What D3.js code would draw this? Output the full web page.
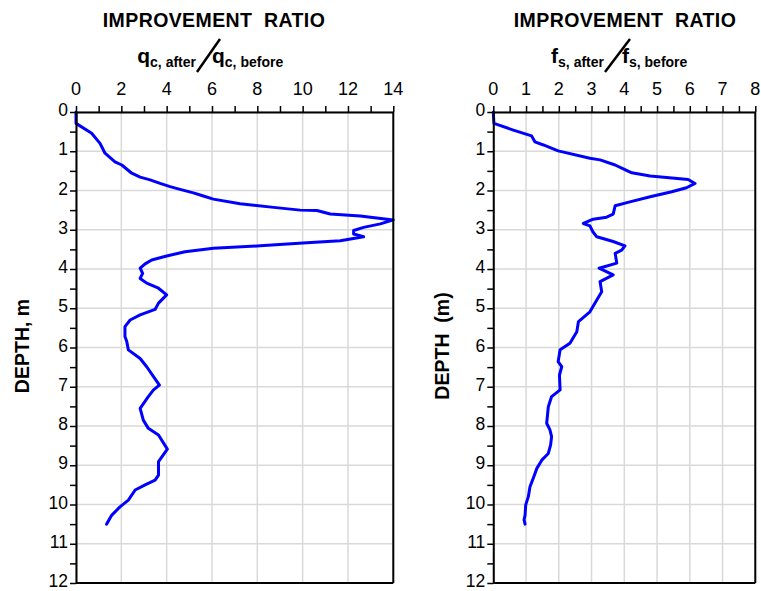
<!DOCTYPE html>
<html>
<head>
<meta charset="utf-8">
<script src="https://cdn.jsdelivr.net/npm/d3@7"></script>
<style>
  body { margin: 0; background: #fff; }
  svg { display: block; font-family: Arial, "Liberation Sans", sans-serif; }
</style>
</head>
<body>
<div id="chart"></div>
<script>
// depth (m) and improvement ratio
const qcDepth = [0, 0.03, 0.29, 0.54, 0.80, 1.05, 1.27, 1.35, 1.56, 1.66, 1.73, 1.82, 1.90, 1.97, 2.06, 2.14, 2.22, 2.34, 2.43, 2.50, 2.51, 2.60, 2.65, 2.75, 2.85, 2.94, 3.02, 3.11, 3.18, 3.28, 3.33, 3.41, 3.47, 3.56, 3.67, 3.77, 3.87, 3.98, 4.11, 4.24, 4.36, 4.49, 4.66, 4.87, 5.03, 5.17, 5.30, 5.47, 5.72, 5.85, 6.06, 6.28, 6.49, 6.74, 6.96, 7.08, 7.25, 7.55, 7.85, 8.06, 8.23, 8.59, 8.91, 9.25, 9.38, 9.50, 9.63, 9.89, 10.06, 10.27, 10.50];
const qcRatio = [0, 0, 0, 0.69, 1.06, 1.28, 1.72, 2.02, 2.46, 2.83, 3.27, 3.71, 4.15, 4.59, 5.18, 5.62, 6.06, 7.24, 8.72, 9.89, 10.63, 11.22, 12.54, 14.0, 13.43, 12.69, 12.25, 12.25, 12.69, 11.66, 10.19, 8.13, 6.06, 4.81, 4.0, 3.34, 3.05, 2.83, 2.94, 2.83, 3.12, 3.64, 4.0, 3.64, 3.49, 2.83, 2.39, 2.16, 2.16, 2.24, 2.31, 2.83, 3.12, 3.42, 3.68, 3.42, 3.19, 2.83, 2.97, 3.19, 3.64, 4.03, 3.64, 3.64, 3.49, 3.05, 2.61, 2.31, 1.94, 1.58, 1.35];

const fsDepth = [0, 0.03, 0.29, 0.46, 0.61, 0.76, 0.84, 0.99, 1.18, 1.22, 1.35, 1.43, 1.55, 1.63, 1.67, 1.72, 1.82, 1.93, 2.03, 2.16, 2.29, 2.39, 2.60, 2.68, 2.73, 2.84, 2.90, 3.05, 3.18, 3.30, 3.41, 3.52, 3.60, 3.85, 3.98, 4.15, 4.32, 4.58, 4.79, 5.09, 5.34, 5.60, 5.89, 6.06, 6.36, 6.49, 6.70, 7.08, 7.25, 7.51, 7.93, 8.10, 8.27, 8.48, 8.70, 8.87, 9.08, 9.33, 9.55, 9.80, 10.01, 10.27, 10.39, 10.50];
const fsRatio = [0, 0, 0.02, 0.61, 1.17, 1.27, 1.53, 1.98, 2.95, 3.26, 3.72, 3.92, 4.23, 4.79, 5.29, 5.95, 6.16, 5.90, 5.45, 4.79, 4.17, 3.72, 3.66, 3.46, 3.05, 2.75, 2.95, 3.04, 3.16, 3.66, 4.02, 3.92, 3.72, 3.77, 3.23, 3.66, 3.26, 3.31, 3.16, 2.95, 2.60, 2.55, 2.34, 2.04, 1.98, 2.09, 2.02, 2.04, 1.78, 1.68, 1.63, 1.73, 1.78, 1.75, 1.68, 1.48, 1.33, 1.22, 1.12, 1.07, 0.99, 0.97, 0.94, 0.97];

const depthTicks = d3.range(0, 13, 1);
const qcTicks = [0, 2, 4, 6, 8, 10, 12, 14];
const fsTicks = [0, 1, 2, 3, 4, 5, 6, 7, 8];

const W = 761, H = 591;
const svg = d3.select("#chart").append("svg")
    .attr("width", W)
    .attr("height", H);

function panel(opts) {
  const x = d3.scaleLinear().domain([0, opts.xMax]).range([opts.left, opts.right]);
  const y = d3.scaleLinear().domain([0, 12]).range([112, 583]);
  const g = svg.append("g");

  // grid
  g.append("g").selectAll("line")
    .data(opts.gridX)
    .join("line")
      .attr("x1", d => x(d)).attr("x2", d => x(d))
      .attr("y1", y(0)).attr("y2", y(12))
      .attr("stroke", "#d9d9d9").attr("stroke-width", 1.5);
  g.append("g").selectAll("line")
    .data(depthTicks)
    .join("line")
      .attr("x1", x(0)).attr("x2", x(opts.xMax))
      .attr("y1", d => y(d)).attr("y2", d => y(d))
      .attr("stroke", "#d9d9d9").attr("stroke-width", 1.5);

  // curve
  const pts = opts.depth.map((d, i) => [opts.ratio[i], d]);
  g.append("path")
    .datum(pts)
    .attr("fill", "none")
    .attr("stroke", "#0000ff")
    .attr("stroke-width", 3)
    .attr("stroke-linejoin", "round")
    .attr("stroke-linecap", "round")
    .attr("d", d3.line().x(d => x(d[0])).y(d => y(d[1])));

  // frame (right and bottom)
  g.append("line").attr("x1", x(opts.xMax)).attr("x2", x(opts.xMax))
    .attr("y1", y(0)).attr("y2", y(12)).attr("stroke", "#000").attr("stroke-width", 2);
  g.append("line").attr("x1", x(0)).attr("x2", x(opts.xMax))
    .attr("y1", y(12)).attr("y2", y(12)).attr("stroke", "#000").attr("stroke-width", 2);

  // top axis
  const xAx = g.append("g")
    .attr("transform", `translate(0,${y(0)})`)
    .call(d3.axisTop(x).tickValues(opts.minorX).tickSize(6).tickSizeOuter(0).tickFormat(""));
  xAx.select(".domain").attr("stroke-width", 2);
  xAx.selectAll(".tick line").attr("stroke-width", 1.5);
  g.append("g").selectAll("text")
    .data(opts.labelsX)
    .join("text")
      .attr("x", d => x(d))
      .attr("y", 95)
      .attr("text-anchor", "middle")
      .attr("font-size", 18)
      .text(d => d);

  // left axis
  const yAx = g.append("g")
    .attr("transform", `translate(${x(0)},0)`)
    .call(d3.axisLeft(y).tickValues(d3.range(0, 12.01, 0.5)).tickSize(6).tickSizeOuter(0)
      .tickFormat(d => Number.isInteger(d) ? d : ""));
  yAx.select(".domain").attr("stroke-width", 2);
  yAx.selectAll(".tick line").attr("stroke-width", 1.5);
  yAx.selectAll(".tick text")
    .attr("font-size", 17.5)
    .attr("font-family", "Arial, 'Liberation Sans', sans-serif")
    .attr("fill", "#000")
    .attr("dy", "0.2em")
    .attr("x", -8);

  // titles
  g.append("text")
    .attr("x", opts.titleX).attr("y", 27)
    .attr("text-anchor", "middle")
    .attr("font-size", 19.5).attr("font-weight", "bold")
    .attr("letter-spacing", 0.4)
    .style("white-space", "pre")
    .text("IMPROVEMENT  RATIO");

  const sub = (anchor, xPos, sym, subTxt) => {
    const t = g.append("text")
      .attr("x", xPos).attr("y", 63)
      .attr("text-anchor", anchor)
      .attr("font-weight", "bold");
    t.append("tspan").attr("font-size", 21).text(sym);
    t.append("tspan").attr("font-size", 14).attr("dy", 4).style("white-space", "pre").text(subTxt);
  };
  sub("end", opts.slash[0] - 1, opts.sym, opts.subA);
  sub("start", opts.slash[2] - 8, opts.sym, opts.subB);
  g.append("line")
    .attr("x1", opts.slash[0]).attr("y1", 72)
    .attr("x2", opts.slash[2]).attr("y2", 39)
    .attr("stroke", "#000").attr("stroke-width", 2.5);

  g.append("text")
    .attr("transform", `translate(${opts.yTitleX},${346}) rotate(-90)`)
    .attr("text-anchor", "middle")
    .attr("font-size", 19.5).attr("font-weight", "bold")
    .style("white-space", "pre")
    .text(opts.yTitle);
}

panel({
  left: 76, right: 393.3, xMax: 14,
  gridX: qcTicks, minorX: d3.range(0, 14.01, 1), labelsX: qcTicks,
  depth: qcDepth, ratio: qcRatio,
  titleX: 214, slash: [197, 0, 220], sym: "q", subA: "c, after", subB: "c, before",
  yTitle: "DEPTH, m", yTitleX: 29
});

panel({
  left: 493.3, right: 755.3, xMax: 8,
  gridX: fsTicks, minorX: d3.range(0, 8.01, 0.5), labelsX: fsTicks,
  depth: fsDepth, ratio: fsRatio,
  titleX: 625, slash: [605, 0, 630], sym: "f", subA: "s, after", subB: "s, before",
  yTitle: "DEPTH  (m)", yTitleX: 449
});
</script>
</body>
</html>
